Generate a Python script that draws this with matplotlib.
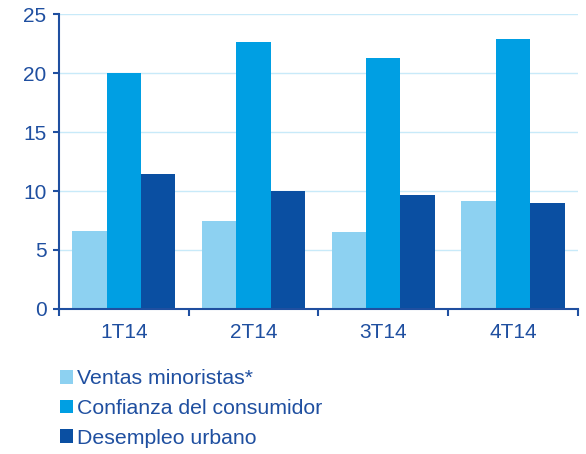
import numpy as np
import matplotlib.pyplot as plt
from matplotlib.patches import Patch

plt.rcParams['font.family'] = ['Liberation Sans', 'DejaVu Sans']

quarters = ["1T14", "2T14", "3T14", "4T14"]
ventas = [6.6, 7.5, 6.5, 9.15]
confianza = [20.0, 22.6, 21.3, 22.9]
desempleo = [11.4, 10.0, 9.65, 9.0]
series_names = ["Ventas minoristas*", "Confianza del consumidor", "Desempleo urbano"]

colors = ["#8dd1f1", "#009fe3", "#0a4fa2"]
txt = "#1f4fa0"

fig = plt.figure(figsize=(5.86, 4.54), dpi=100)
ax = fig.add_axes([0.1007, 0.3194, 0.8853, 0.6497])

x = np.arange(len(quarters))
w = 0.265
for i, vals in enumerate([ventas, confianza, desempleo]):
    ax.bar(x + (i - 1) * w, vals, width=w, color=colors[i], zorder=3)

ax.set_xlim(-0.5, 3.5)
ax.set_ylim(0, 25)
ax.set_yticks([0, 5, 10, 15, 20, 25])
ax.yaxis.grid(True, color="#c8eaf9", lw=1, zorder=0)
ax.set_xticks(x)
ax.set_xticklabels(quarters)
ax.set_xticks(np.arange(-0.5, 4, 1), minor=True)
ax.tick_params(axis='x', which='major', length=0, pad=10, labelsize=15, labelcolor=txt)
ax.tick_params(axis='x', which='minor', length=5, width=1.5, color=txt, direction='out')
ax.tick_params(axis='y', length=4.5, width=1.5, color=txt, labelsize=15, labelcolor=txt, pad=4.5)
for s in ['top', 'right']:
    ax.spines[s].set_visible(False)
for s in ['left', 'bottom']:
    ax.spines[s].set_color(txt)
    ax.spines[s].set_linewidth(1.5)
    ax.spines[s].set_zorder(4)

handles = [Patch(facecolor=c, edgecolor='none') for c in colors]
fig.legend(handles, series_names, loc='upper left', bbox_to_anchor=(0.088, 0.205),
           frameon=False, fontsize=15.3, labelcolor=txt, handlelength=0.6,
           handleheight=0.6, handletextpad=0.2, labelspacing=0.5, borderaxespad=0)

fig.savefig("out.png", dpi=100)
